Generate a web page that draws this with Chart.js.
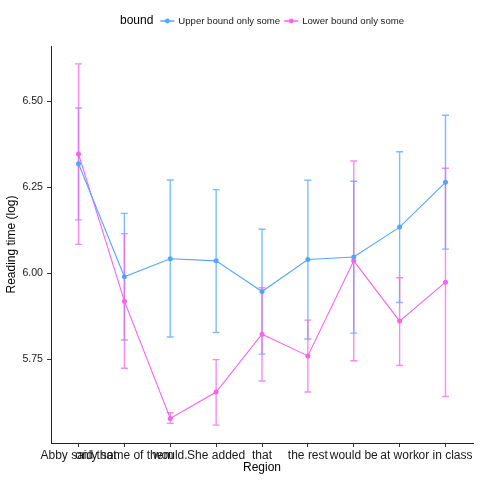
<!DOCTYPE html>
<html>
<head>
<meta charset="utf-8">
<script src="https://cdn.jsdelivr.net/npm/chart.js@4"></script>
<style>
html,body{margin:0;padding:0;background:#fff;}
#wrap{width:480px;height:480px;}
</style>
</head>
<body>
<div id="wrap"><canvas id="c" width="480" height="480"></canvas></div>
<script>
const categories = ["Abby said that", "only some of them", "would.", "She added", "that", "the rest", "would be", "at work", "or in class"];
const seriesNames = ["Upper bound only some", "Lower bound only some"];
const upperMean = [6.318, 5.990, 6.042, 6.036, 5.947, 6.040, 6.047, 6.134, 6.264];
const upperHi   = [6.480, 6.174, 6.271, 6.243, 6.128, 6.270, 6.267, 6.353, 6.459];
const upperLo   = [6.155, 5.806, 5.815, 5.828, 5.765, 5.809, 5.826, 5.915, 6.070];
const lowerMean = [6.346, 5.919, 5.578, 5.655, 5.823, 5.760, 6.036, 5.861, 5.974];
const lowerHi   = [6.608, 6.115, 5.595, 5.749, 5.958, 5.864, 6.326, 5.987, 6.305];
const lowerLo   = [6.084, 5.724, 5.564, 5.559, 5.687, 5.655, 5.746, 5.732, 5.642];
const yTicks = [5.75, 6.00, 6.25, 6.50];
const legendTitle = "bound";
const xTitle = "Region";
const yTitle = "Reading time (log)";

const colors = ["#52A6FF", "#F962EC"];
const barColors = ["rgba(82,166,255,0.75)", "rgba(249,98,236,0.75)"];
const FONT = "'Liberation Sans', Arial, Helvetica, sans-serif";

const errData = [[upperLo, upperHi], [lowerLo, lowerHi]];

const errorBarPlugin = {
  id: 'errorBars',
  beforeDatasetsDraw(chart) {
    const ctx = chart.ctx;
    const xs = chart.scales.x, ys = chart.scales.y;
    ctx.save();
    errData.forEach((pair, d) => {
      ctx.strokeStyle = barColors[d];
      ctx.lineWidth = 1.4;
      const [lo, hi] = pair;
      lo.forEach((l, i) => {
        const x = xs.getPixelForValue(i);
        const yl = ys.getPixelForValue(l);
        const yh = ys.getPixelForValue(hi[i]);
        ctx.beginPath();
        ctx.moveTo(x, yl); ctx.lineTo(x, yh);
        ctx.moveTo(x - 3.5, yl); ctx.lineTo(x + 3.5, yl);
        ctx.moveTo(x - 3.5, yh); ctx.lineTo(x + 3.5, yh);
        ctx.stroke();
      });
    });
    ctx.restore();
  }
};

const legendPlugin = {
  id: 'customLegend',
  afterDraw(chart) {
    const ctx = chart.ctx;
    const area = chart.chartArea;
    ctx.save();
    const titleFont = "12px " + FONT;
    const itemFont = "9.6px " + FONT;
    ctx.font = titleFont;
    const tw = ctx.measureText(legendTitle).width;
    ctx.font = itemFont;
    const iw = seriesNames.map(s => ctx.measureText(s).width);
    const sym = 14, gapT = 7, gapS = 4, gapI = 4;
    let total = tw + gapT;
    iw.forEach((w, i) => { total += sym + gapS + w + (i < iw.length - 1 ? gapI : 0); });
    let x = (area.left + area.right) / 2 - total / 2;
    const y = 21;
    ctx.textBaseline = 'middle';
    ctx.textAlign = 'left';
    ctx.fillStyle = '#000';
    ctx.font = titleFont;
    ctx.fillText(legendTitle, x, y);
    x += tw + gapT;
    ctx.font = itemFont;
    seriesNames.forEach((s, i) => {
      ctx.strokeStyle = colors[i];
      ctx.lineWidth = 1.5;
      ctx.beginPath(); ctx.moveTo(x, y); ctx.lineTo(x + sym, y); ctx.stroke();
      ctx.fillStyle = colors[i];
      ctx.beginPath(); ctx.arc(x + sym / 2, y, 2.4, 0, Math.PI * 2); ctx.fill();
      x += sym + gapS;
      ctx.fillStyle = '#1a1a1a';
      ctx.fillText(s, x, y);
      x += iw[i] + gapI;
    });
    ctx.restore();
  }
};

const datasets = [upperMean, lowerMean].map((arr, d) => ({
  label: seriesNames[d],
  data: arr.map((v, i) => ({x: i, y: v})),
  borderColor: colors[d],
  backgroundColor: colors[d],
  borderWidth: 1.1,
  pointRadius: 2.5,
  pointBorderWidth: 0,
  pointHoverRadius: 2.5,
  tension: 0,
  fill: false
}));

new Chart(document.getElementById('c'), {
  type: 'line',
  data: { datasets },
  plugins: [errorBarPlugin, legendPlugin],
  options: {
    responsive: false,
    animation: false,
    devicePixelRatio: 1,
    layout: { padding: { top: 46, left: 0, right: 7, bottom: 0 } },
    plugins: { legend: { display: false }, tooltip: { enabled: false } },
    scales: {
      x: {
        type: 'linear',
        min: -0.6, max: 8.6,
        afterBuildTicks: s => { s.ticks = categories.map((c, i) => ({ value: i })); },
        afterFit: s => { s.height = 37; },
        ticks: {
          autoSkip: false, maxRotation: 0, minRotation: 0, padding: 1,
          color: '#1a1a1a', font: { family: FONT, size: 12 },
          callback: v => categories[v]
        },
        grid: { drawOnChartArea: false, drawTicks: true, tickLength: 4, color: '#333', lineWidth: 1 },
        border: { display: true, color: '#222', width: 1 },
        title: { display: true, text: xTitle, color: '#000', font: { family: FONT, size: 12 }, padding: { top: 0, bottom: 5 } }
      },
      y: {
        type: 'linear',
        min: 5.507, max: 6.66,
        afterBuildTicks: s => { s.ticks = yTicks.map(v => ({ value: v })); },
        afterFit: s => { s.width = 51; },
        ticks: {
          padding: 4, color: '#1a1a1a', font: { family: FONT, size: 10.6 },
          callback: v => v.toFixed(2)
        },
        grid: { drawOnChartArea: false, drawTicks: true, tickLength: 4, color: '#333', lineWidth: 1 },
        border: { display: true, color: '#222', width: 1 },
        title: { display: true, text: yTitle, color: '#000', font: { family: FONT, size: 12 }, padding: { top: 4, bottom: 0 } }
      }
    }
  }
});
</script>
</body>
</html>
